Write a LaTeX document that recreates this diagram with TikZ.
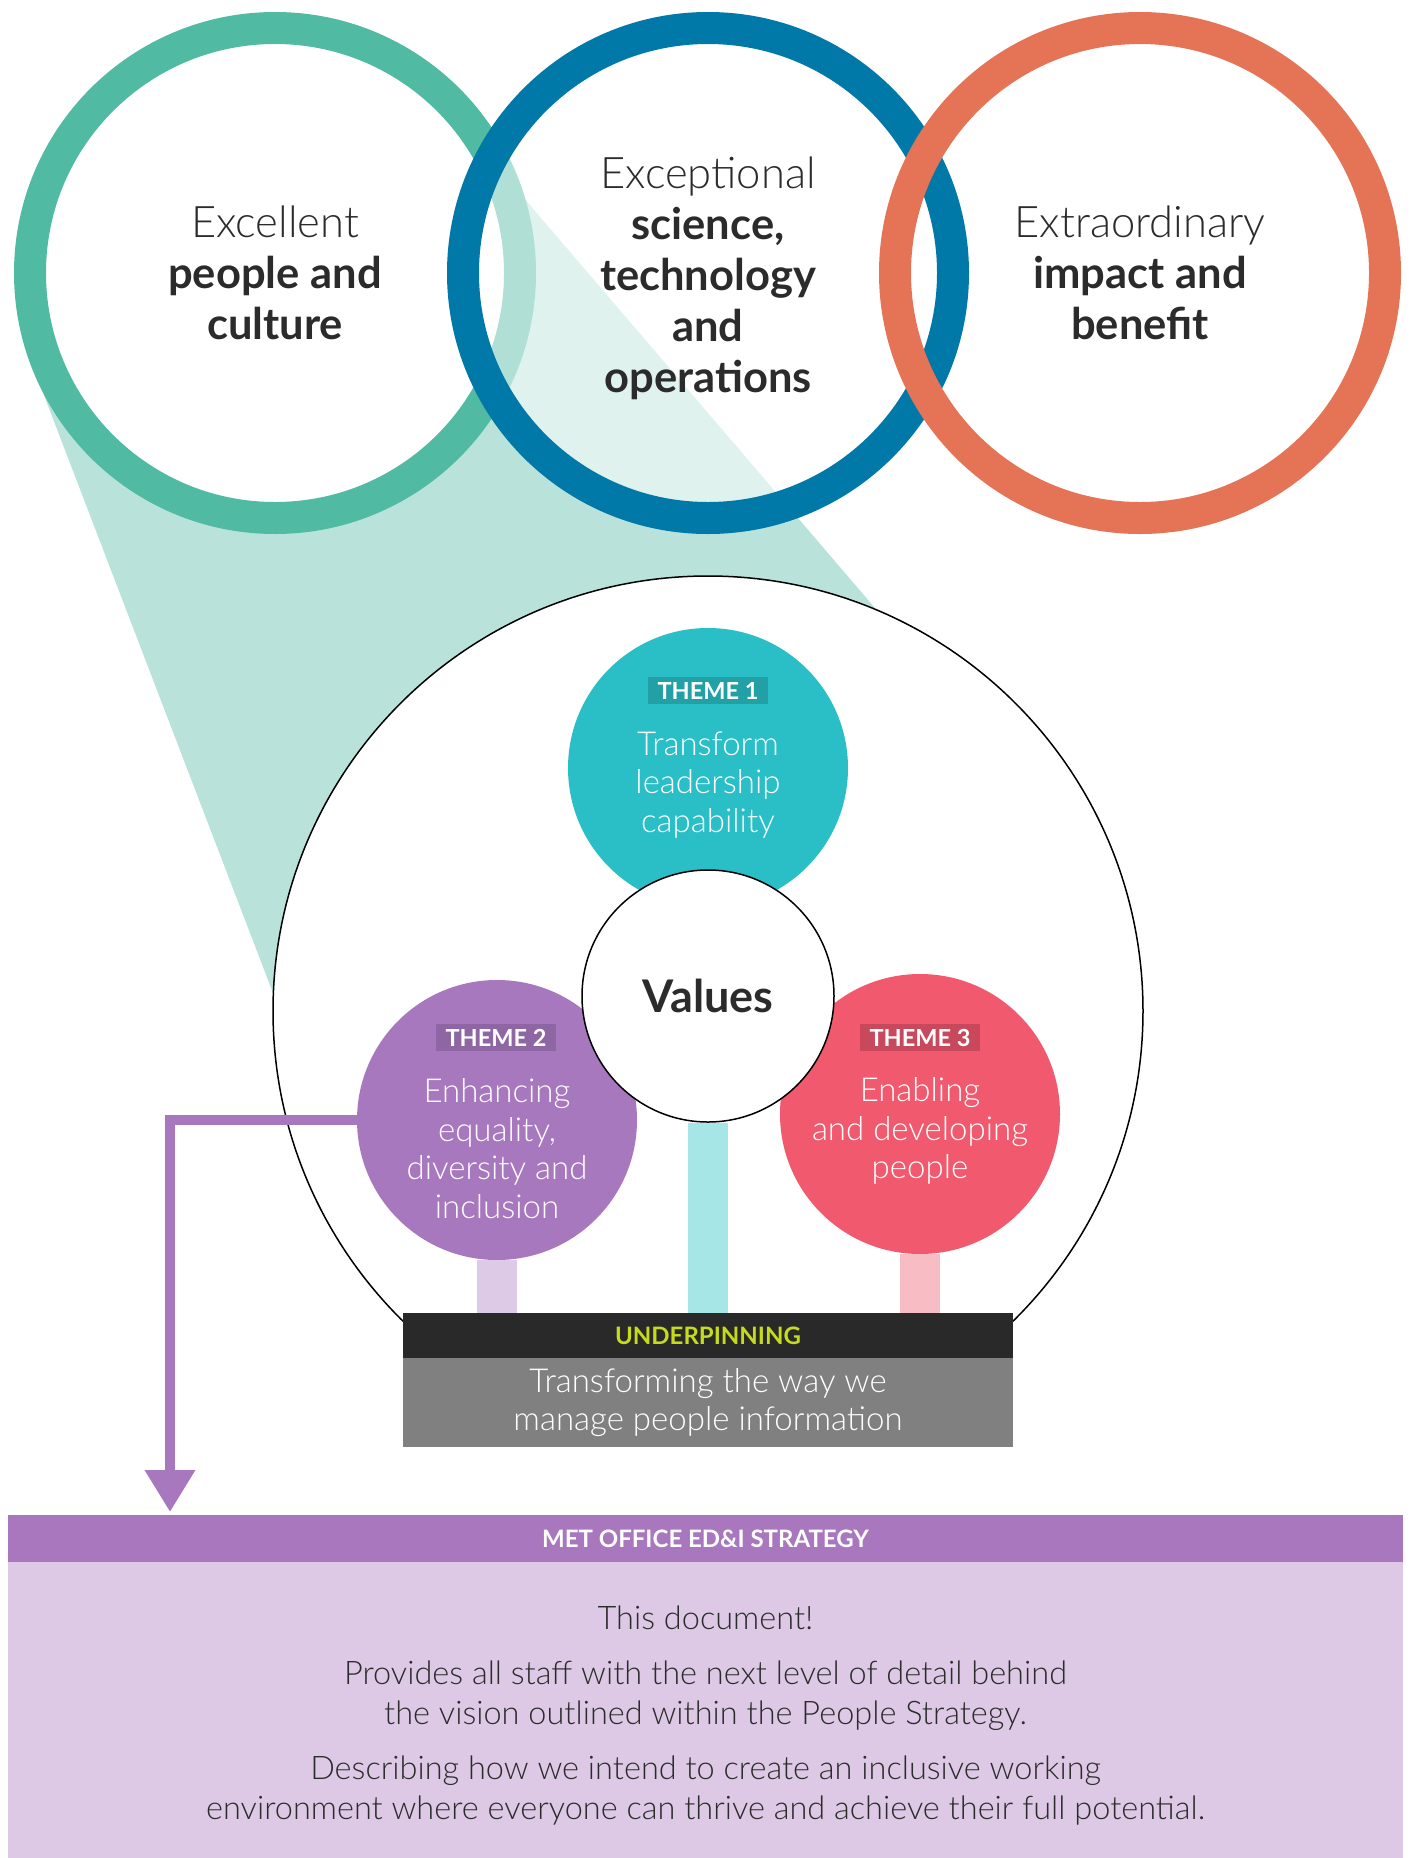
\documentclass[tikz,border=0pt]{standalone}
\usepackage{fontspec}
\setmainfont{Lato}[UprightFont=* Light, BoldFont=* Bold]
\usetikzlibrary{positioning,calc,arrows.meta}

\definecolor{ringgreen}{HTML}{50BAA3}
\definecolor{ringblue}{HTML}{0079A8}
\definecolor{ringorange}{HTML}{E47455}
\definecolor{wedgemint}{HTML}{B9E3DA}
\definecolor{themeteal}{HTML}{2ABEC7}
\definecolor{tagteal}{HTML}{23A0A5}
\definecolor{themepurple}{HTML}{A878BE}
\definecolor{tagpurple}{HTML}{8D66A3}
\definecolor{themepink}{HTML}{F0596E}
\definecolor{tagpink}{HTML}{C8495C}
\definecolor{stempurple}{HTML}{DCCAE6}
\definecolor{stemteal}{HTML}{A7E6E7}
\definecolor{stempink}{HTML}{F8BCC4}
\definecolor{underdark}{HTML}{292929}
\definecolor{undergrey}{HTML}{808080}
\definecolor{underlime}{HTML}{C5DC1A}
\definecolor{stratpurple}{HTML}{A977BE}
\definecolor{stratlilac}{HTML}{DDC9E5}
\definecolor{inkdark}{HTML}{2B2B2B}

\tikzstyle{pillar} = [circle,
                      inner sep=0pt,
                      minimum size=490pt,
                      line width=32pt]
\tikzstyle{pillar_text} = [align=center,
                           text=inkdark,
                           font=\fontsize{43.5}{51}\selectfont]
\tikzstyle{theme} = [circle,
                     inner sep=0pt,
                     minimum size=280pt]
\tikzstyle{theme_tag} = [minimum width=120pt,
                         minimum height=27pt,
                         inner sep=0pt,
                         text=white,
                         font=\fontsize{23.5}{23.5}\selectfont\bfseries]
\tikzstyle{theme_text} = [align=center,
                          text=white,
                          font=\fontsize{33}{38.5}\selectfont]

\begin{document}
\begin{tikzpicture}[x=1pt,y=-1pt]
    \useasboundingbox (0,0) rectangle (1413,1858);

    %%%%%%%%%%%
    % PILLARS %
    %%%%%%%%%%%
    \fill[wedgemint] (37,377) -- (523,197) -- (875,608) -- (708,1011) -- (273,993) -- cycle;
    \node[pillar, draw=ringgreen, fill=white] (people) at (275,273) {};
    \node[pillar, draw=ringblue, fill=white, fill opacity=0.55] (science) at (708,273) {};
    \node[pillar, draw=ringorange] (impact) at (1140,273) {};
    \node[pillar_text] (peopletext) at (people) {Excellent\\ \textbf{people and}\\ \textbf{culture}};
    \node[pillar_text] (sciencetext) at ([yshift=-5]science.center) {Exceptional\\ \textbf{science,}\\ \textbf{technology}\\ \textbf{and}\\ \textbf{operations}};
    \node[pillar_text] (impacttext) at (impact) {Extraordinary\\ \textbf{impact and}\\ \textbf{benefit}};

    %%%%%%%%%%
    % THEMES %
    %%%%%%%%%%
    \node[circle, draw=black, line width=1.5pt, fill=white, minimum size=870pt] (frame) at (708,1011) {};
    \node[theme, fill=themeteal] (theme1) at (708,768) {};
    \node[theme, fill=themepurple] (theme2) at (497,1120) {};
    \node[theme, fill=themepink] (theme3) at (920,1114) {};
    \node[circle, draw=black, line width=1.5pt, fill=white, minimum size=252pt, inner sep=0pt,
          text=inkdark, font=\fontsize{45}{45}\selectfont\bfseries] (values) at (708,996) {Values};

    \node[theme_tag, fill=tagteal] (tag1) at (708,690.5) {THEME 1};
    \node[theme_text] (text1) at (708,785) {Transform\\ leadership\\ capability};
    \node[theme_tag, fill=tagpurple] (tag2) at (496,1037.5) {THEME 2};
    \node[theme_text] (text2) at (497,1148.5) {Enhancing\\ equality,\\ diversity and\\ inclusion};
    \node[theme_tag, fill=tagpink] (tag3) at (920,1037.5) {THEME 3};
    \node[theme_text] (text3) at (920,1131) {Enabling\\ and developing\\ people};

    %%%%%%%%%%%%%%%%
    % UNDERPINNING %
    %%%%%%%%%%%%%%%%
    \node[fill=underdark, minimum width=610pt, minimum height=45pt, inner sep=0pt,
          text=underlime, font=\fontsize{24}{24}\selectfont\bfseries] (underpin) at (708,1335.5) {UNDERPINNING};
    \node[fill=undergrey, minimum width=610pt, minimum height=89pt, inner sep=0pt, align=center,
          text=white, font=\fontsize{33}{38}\selectfont, below=0pt of underpin] (underpinbody) {Transforming the way we\\ manage people information};
    \fill[stempurple] ([xshift=-20]theme2.south) rectangle ([xshift=20]theme2.south |- underpin.north);
    \fill[stemteal] ([xshift=-20]values.south) rectangle ([xshift=20]values.south |- underpin.north);
    \fill[stempink] ([xshift=-20]theme3.south) rectangle ([xshift=20]theme3.south |- underpin.north);

    %%%%%%%%%%%%
    % STRATEGY %
    %%%%%%%%%%%%
    \node[fill=stratpurple, minimum width=1395pt, minimum height=47pt, inner sep=0pt,
          text=white, font=\fontsize{24}{24}\selectfont\bfseries] (strategy) at (705.5,1538.5) {MET OFFICE ED\&I STRATEGY};
    \node[fill=stratlilac, minimum width=1395pt, minimum height=296pt, inner sep=0pt,
          below=0pt of strategy] (strategybody) {};
    \node[align=center, text=inkdark, font=\fontsize{32.5}{40}\selectfont] (strategytext) at (705.5,1716)
          {This document!\\[15pt] Provides all staff with the next level of detail behind\\ the vision outlined within the People Strategy.\\[15pt] Describing how we intend to create an inclusive working\\ environment where everyone can thrive and achieve their full potential.};
    \coordinate (arrowtip) at (170,1512);
    \draw[themepurple, line width=10pt, -{Triangle[width=48pt,length=42pt]}] (theme2.west) -| (arrowtip);

\end{tikzpicture}
\end{document}
